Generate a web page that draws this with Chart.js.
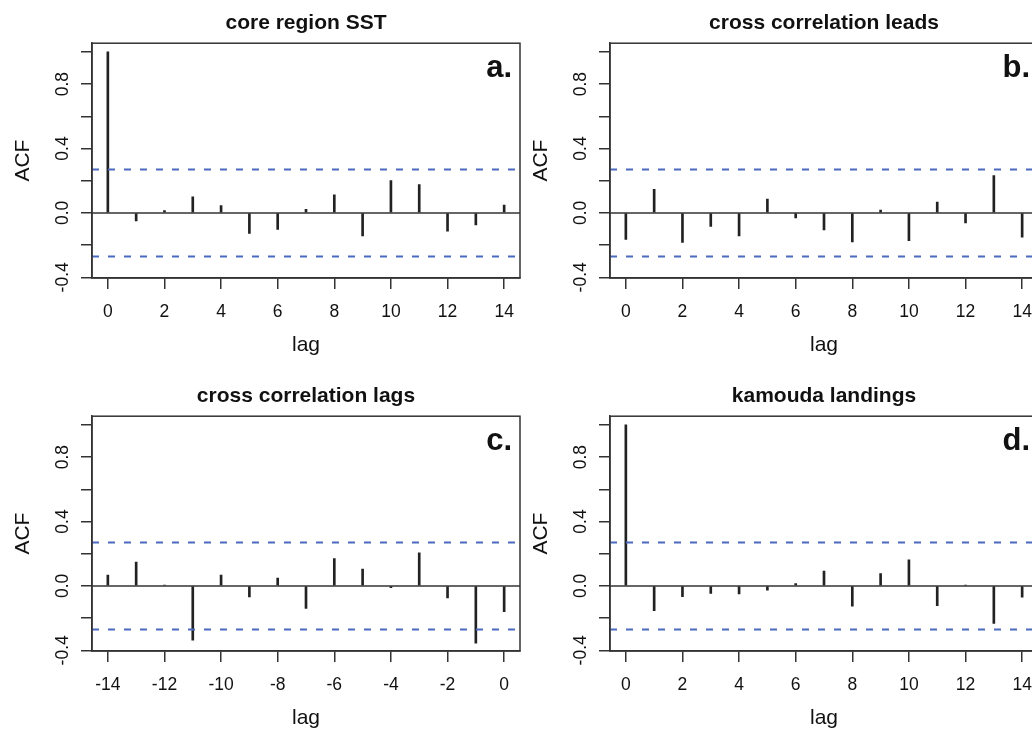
<!DOCTYPE html>
<html>
<head>
<meta charset="utf-8">
<script src="https://cdn.jsdelivr.net/npm/chart.js@4.4.1/dist/chart.umd.min.js"></script>
<style>
  html, body { margin: 0; padding: 0; background: #fff; }
  body { width: 1032px; height: 730px; overflow: hidden; position: relative; }
  .panel { position: absolute; width: 540px; height: 373px; }
  #pa { left: 0; top: 0; }
  #pb { left: 518px; top: 0; }
  #pc { left: 0; top: 373px; }
  #pd { left: 518px; top: 373px; }
</style>
</head>
<body>
<div class="panel" id="pa"><canvas id="chart_a" width="540" height="373"></canvas></div>
<div class="panel" id="pb"><canvas id="chart_b" width="540" height="373"></canvas></div>
<div class="panel" id="pc"><canvas id="chart_c" width="540" height="373"></canvas></div>
<div class="panel" id="pd"><canvas id="chart_d" width="540" height="373"></canvas></div>
<script>
// DATA
const lags_pos = [0, 1, 2, 3, 4, 5, 6, 7, 8, 9, 10, 11, 12, 13, 14];
const lags_neg = [-14, -13, -12, -11, -10, -9, -8, -7, -6, -5, -4, -3, -2, -1, 0];

const core_sst = [1.0, -0.049, 0.014, 0.10, 0.045, -0.127, -0.103, 0.023, 0.113, -0.142, 0.201, 0.176, -0.113, -0.074, 0.049];
const cc_leads = [-0.164, 0.146, -0.183, -0.084, -0.142, 0.086, -0.031, -0.105, -0.18, 0.018, -0.172, 0.068, -0.062, 0.232, -0.15];
const cc_lags = [0.068, 0.148, 0.006, -0.336, 0.068, -0.068, 0.049, -0.139, 0.170, 0.105, -0.01, 0.205, -0.074, -0.355, -0.16];
const kamouda = [1.0, -0.154, -0.066, -0.047, -0.049, -0.027, 0.014, 0.092, -0.125, 0.076, 0.162, -0.123, 0.006, -0.232, -0.07];

const ci_bound = 0.27;

const y_range = [-0.404, 1.054];
const y_ticks = [-0.4, -0.2, 0.0, 0.2, 0.4, 0.6, 0.8, 1.0];
const y_tick_labels = ["-0.4", "", "0.0", "", "0.4", "", "0.8", ""];

const x_range_pos = [-0.56, 14.56];
const x_range_neg = [-14.56, 0.56];
const x_ticks_pos = [0, 2, 4, 6, 8, 10, 12, 14];
const x_ticks_neg = [-14, -12, -10, -8, -6, -4, -2, 0];

Chart.defaults.font.family = "'Liberation Sans', Arial, sans-serif";
Chart.defaults.color = "#111";

const AXIS_COLOR = "#333";
const CI_COLOR = "#4a6bc0";

// box round the plot region + panel letter
const boxPlugin = {
	id: "boxPlugin",
	afterDraw(chart, args, opts) {
		const {ctx, chartArea} = chart;
		ctx.save();
		ctx.strokeStyle = AXIS_COLOR;
		ctx.lineWidth = 1.5;
		ctx.strokeRect(chartArea.left, chartArea.top, chartArea.right - chartArea.left, chartArea.bottom - chartArea.top);
		ctx.fillStyle = "#111";
		ctx.font = "bold 31px 'Liberation Sans', Arial, sans-serif";
		ctx.textAlign = "right";
		ctx.textBaseline = "alphabetic";
		ctx.fillText(opts.letter, chartArea.right - 8, chartArea.top + 34);
		ctx.restore();
	}
};

function makePanel(canvas_id, title, letter, lags, acf, x_range, x_ticks){
	const ctx = document.getElementById(canvas_id).getContext("2d");
	return new Chart(ctx, {
		type: "bar",
		data: {
			datasets: [{
				type: "bar",
				data: lags.map((l, i) => ({x: l, y: acf[i]})),
				backgroundColor: "#222",
				borderWidth: 0,
				barThickness: 2,
				order: 2
			},{
				type: "line",
				data: [{x: x_range[0], y: 0}, {x: x_range[1], y: 0}],
				borderColor: AXIS_COLOR,
				borderWidth: 1.5,
				pointRadius: 0,
				order: 1
			},{
				type: "line",
				data: [{x: x_range[0], y: ci_bound}, {x: x_range[1], y: ci_bound}],
				borderColor: CI_COLOR,
				borderWidth: 2,
				borderDash: [7, 9],
				pointRadius: 0,
				order: 0
			},{
				type: "line",
				data: [{x: x_range[0], y: -ci_bound}, {x: x_range[1], y: -ci_bound}],
				borderColor: CI_COLOR,
				borderWidth: 2,
				borderDash: [7, 9],
				pointRadius: 0,
				order: 0
			}]
		},
		options: {
			responsive: false,
			animation: false,
			layout: { padding: { left: 0, right: 20, top: 0, bottom: 0 } },
			plugins: {
				legend: { display: false },
				tooltip: { enabled: false },
				title: {
					display: true,
					text: title,
					fullSize: false,
					font: { size: 21, weight: "bold" },
					color: "#111",
					padding: { top: 11, bottom: 7 }
				},
				boxPlugin: { letter: letter }
			},
			scales: {
				x: {
					type: "linear",
					min: x_range[0],
					max: x_range[1],
					offset: false,
					afterBuildTicks: scale => { scale.ticks = x_ticks.map(v => ({value: v})); },
					afterFit: scale => { scale.height = 95; },
					ticks: {
						autoSkip: false,
						maxRotation: 0,
						padding: 13,
						font: { size: 17.5 },
						color: "#111",
						callback: v => String(v)
					},
					grid: {
						offset: false,
						drawOnChartArea: false,
						drawTicks: true,
						tickLength: 11,
						color: AXIS_COLOR,
						lineWidth: 1.5
					},
					border: { display: true, color: AXIS_COLOR, width: 1.5 },
					title: {
						display: true,
						text: "lag",
						font: { size: 21 },
						color: "#111",
						padding: { top: 0, bottom: 15 }
					}
				},
				y: {
					type: "linear",
					min: y_range[0],
					max: y_range[1],
					afterBuildTicks: scale => { scale.ticks = y_ticks.map(v => ({value: v})); },
					afterFit: scale => { scale.width = 92; },
					ticks: {
						autoSkip: false,
						minRotation: 90,
						maxRotation: 90,
						crossAlign: "center",
						padding: 3,
						font: { size: 17.5 },
						color: "#111",
						callback: (v, i) => y_tick_labels[i]
					},
					grid: {
						drawOnChartArea: false,
						drawTicks: true,
						tickLength: 11,
						color: AXIS_COLOR,
						lineWidth: 1.5
					},
					border: { display: true, color: AXIS_COLOR, width: 1.5 },
					title: {
						display: true,
						text: "ACF",
						font: { size: 21 },
						color: "#111",
						padding: { top: 11, bottom: 0 }
					}
				}
			}
		},
		plugins: [boxPlugin]
	});
}

makePanel("chart_a", "core region SST", "a.", lags_pos, core_sst, x_range_pos, x_ticks_pos);
makePanel("chart_b", "cross correlation leads", "b.", lags_pos, cc_leads, x_range_pos, x_ticks_pos);
makePanel("chart_c", "cross correlation lags", "c.", lags_neg, cc_lags, x_range_neg, x_ticks_neg);
makePanel("chart_d", "kamouda landings", "d.", lags_pos, kamouda, x_range_pos, x_ticks_pos);
</script>
</body>
</html>
